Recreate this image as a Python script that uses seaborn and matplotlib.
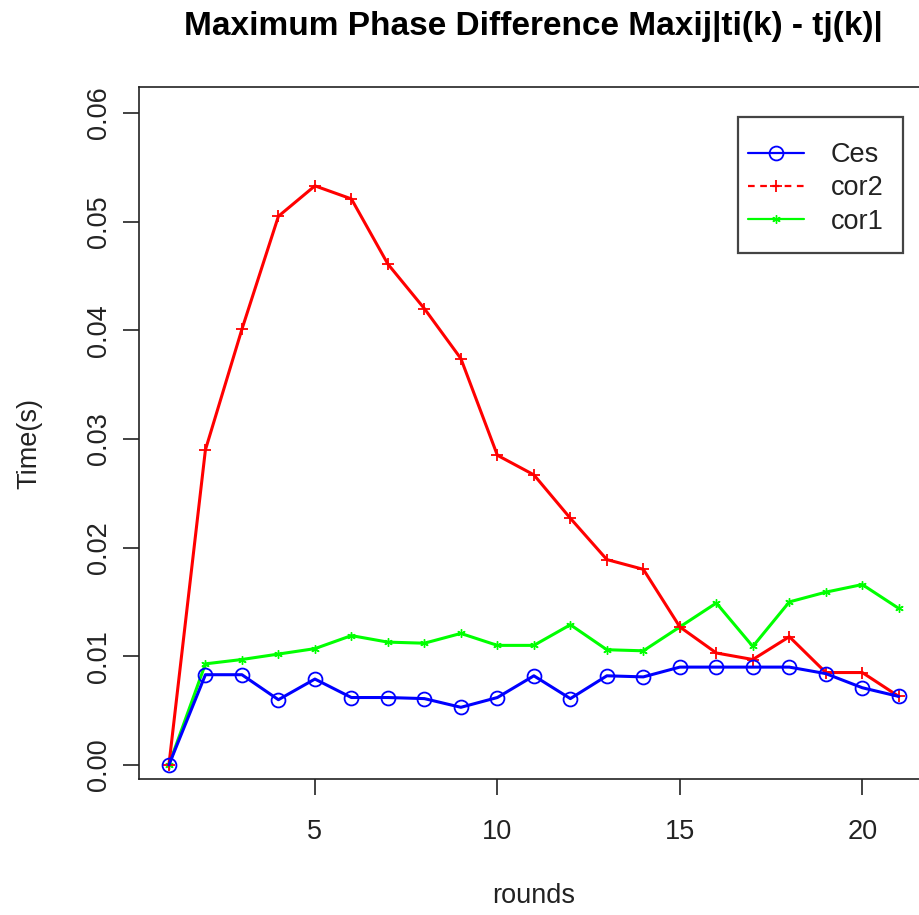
import matplotlib
matplotlib.use("Agg")
import matplotlib.pyplot as plt
from matplotlib.lines import Line2D
from matplotlib.patches import Rectangle
import seaborn as sns

# rounds of the synchronisation run
rounds = list(range(1, 22))

# maximum phase difference per round (seconds)
ces = [0.0, 0.0083, 0.0083, 0.0060, 0.0079, 0.0062, 0.0062, 0.0061, 0.0053, 0.0062,
       0.0082, 0.0061, 0.0082, 0.0081, 0.0090, 0.0090, 0.0090, 0.0090, 0.0084, 0.0071, 0.0063]
cor2 = [0.0, 0.0290, 0.0401, 0.0505, 0.0533, 0.0521, 0.0461, 0.0420, 0.0374, 0.0285,
        0.0267, 0.0227, 0.0189, 0.0180, 0.0127, 0.0103, 0.0097, 0.0118, 0.0085, 0.0085, 0.0063]
cor1 = [0.0, 0.0093, 0.0097, 0.0102, 0.0107, 0.0119, 0.0113, 0.0112, 0.0121, 0.0110,
        0.0110, 0.0129, 0.0106, 0.0105, 0.0127, 0.0149, 0.0109, 0.0150, 0.0159, 0.0166, 0.0144]

series_names = ["Ces", "cor2", "cor1"]
xticks = [5, 10, 15, 20]
yticks = [0.00, 0.01, 0.02, 0.03, 0.04, 0.05, 0.06]
ytick_labels = ["0.00", "0.01", "0.02", "0.03", "0.04", "0.05", "0.06"]

sns.set_style("white")
plt.rcParams["font.family"] = ["Liberation Sans", "DejaVu Sans"]

W, H = 920, 915
fig = plt.figure(figsize=(W / 100, H / 100), dpi=100)
ax = fig.add_axes([139 / W, 136 / H, 789 / W, 692 / H])

lw = 2.2
sns.lineplot(x=rounds, y=cor1, ax=ax, color="#00ff00", lw=lw, marker=(6, 2, 0),
             markersize=6, markeredgewidth=1.0, markeredgecolor="#00ff00", zorder=2)
sns.lineplot(x=rounds, y=cor2, ax=ax, color="#ff0000", lw=lw, marker="+",
             markersize=9, markeredgewidth=1.3, markeredgecolor="#ff0000", zorder=3)
sns.lineplot(x=rounds, y=ces, ax=ax, color="#0000ff", lw=lw, marker="o",
             markersize=10, markerfacecolor="none", markeredgewidth=1.3,
             markeredgecolor="#0000ff", zorder=4)

ax.set_xlim(0.18, 21.8)
ax.set_ylim(-0.0013, 0.0624)
ax.set_xticks(xticks)
ax.set_yticks(yticks)
ax.set_yticklabels(ytick_labels, rotation=90, va="center")
ax.tick_params(axis="both", which="major", direction="out", length=11.5, width=1.2,
               color="#222222", labelsize=19.5, labelcolor="#222222",
               bottom=True, left=True)
ax.tick_params(axis="x", pad=17)
ax.tick_params(axis="y", pad=8)

for sp in ax.spines.values():
    sp.set_visible(True)
    sp.set_color("#222222")
    sp.set_linewidth(1.2)

ax.set_xlabel("rounds", fontsize=19.5, color="#222222", labelpad=28)
ax.set_ylabel("Time(s)", fontsize=19.5, color="#222222")
ax.yaxis.set_label_coords(-0.1225, 0.485)
fig.text(533 / W, 1 - 26 / H, "Maximum Phase Difference Maxij|ti(k) - tj(k)|",
         ha="center", va="center", fontsize=24, fontweight="bold", color="black")

# legend box
ax.add_patch(Rectangle((738 / W, 1 - 253 / H), 165 / W, 136 / H,
                       transform=fig.transFigure, facecolor="white",
                       edgecolor="#444444", linewidth=1.6, zorder=5, clip_on=False))

handles = [
    Line2D([], [], color="#0000ff", lw=1.6, marker="o", markersize=10,
           markerfacecolor="none", markeredgewidth=1.3),
    Line2D([], [], color="#ff0000", lw=1.6, ls=(0, (3, 2.5)), marker="+",
           markersize=9, markeredgewidth=1.3),
    Line2D([], [], color="#00ff00", lw=1.6, marker=(6, 2, 0), markersize=6,
           markeredgewidth=1.0),
]
leg = ax.legend(handles, series_names, loc="upper left",
                bbox_to_anchor=(748 / W, 1 - 142 / H),
                bbox_transform=fig.transFigure, fontsize=19.5, frameon=False,
                handlelength=2.05, handletextpad=1.0,
                labelspacing=0.27, borderpad=0.0, borderaxespad=0.0)
leg.set_zorder(6)
for t in leg.get_texts():
    t.set_color("#222222")

fig.savefig("out.png", dpi=100)
